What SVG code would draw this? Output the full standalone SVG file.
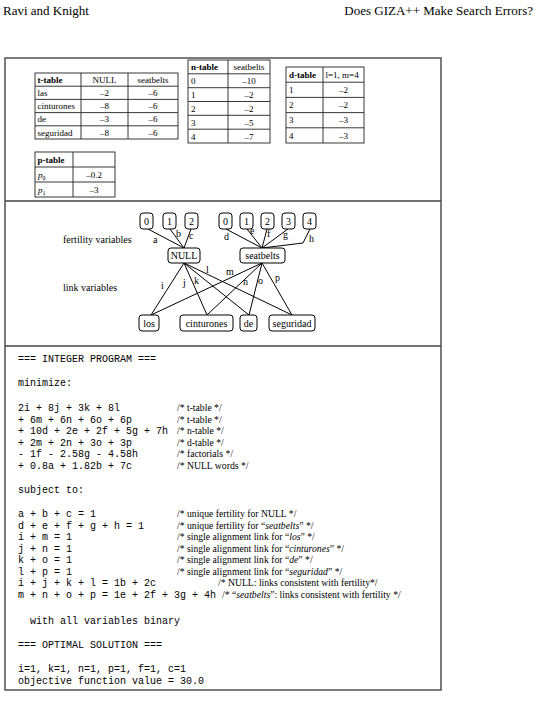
<svg xmlns="http://www.w3.org/2000/svg" width="536" height="705" viewBox="0 0 536 705">
<style>
.hd{font-family:"Liberation Serif",serif;font-size:13px;fill:#000}
.tb{font-family:"Liberation Serif",serif;font-size:9px;fill:#000}
.tbb{font-family:"Liberation Serif",serif;font-size:9px;font-weight:bold;fill:#000}
.tl{fill:none;stroke:#222;stroke-width:0.9}
.nd{fill:#fff;stroke:#000;stroke-width:1}
.nt{font-family:"Liberation Serif",serif;font-size:10px;fill:#000;text-anchor:middle}
.lb{font-family:"Liberation Serif",serif;font-size:10px;fill:#000}
.ed{fill:none;stroke:#000;stroke-width:1}
.mo{font-family:"Liberation Mono",monospace;font-size:10px;fill:#000;white-space:pre}
.cm{font-family:"Liberation Serif",serif;font-size:9.7px;fill:#000}
.box{fill:none;stroke:#444;stroke-width:1.4}
</style>
<rect width="536" height="705" fill="#fff"/>
<text class="hd" x="3" y="15">Ravi and Knight</text>
<text class="hd" x="533" y="15" text-anchor="end">Does GIZA++ Make Search Errors?</text>

<rect class="box" x="5" y="58" width="436" height="632"/>
<line class="box" x1="5" y1="201" x2="441" y2="201"/>
<line class="box" x1="5" y1="346" x2="441" y2="346"/>

<g id="t-table">
<rect class="tl" x="35" y="73" width="143" height="66"/>
<path class="tl" d="M81 73V139M128 73V139M35 86.2H178M35 99.4H178M35 112.6H178M35 125.8H178"/>
<text class="tbb" x="37.5" y="82.8">t-table</text>
<text class="tb" x="104.5" y="82.8" text-anchor="middle">NULL</text>
<text class="tb" x="153" y="82.8" text-anchor="middle">seatbelts</text>
<text class="tb" x="37.5" y="96">las</text>
<text class="tb" x="37.5" y="109.2">cinturones</text>
<text class="tb" x="37.5" y="122.4">de</text>
<text class="tb" x="37.5" y="135.6">seguridad</text>
<g text-anchor="middle">
<text class="tb" x="104.5" y="96">–2</text><text class="tb" x="153" y="96">–6</text>
<text class="tb" x="104.5" y="109.2">–8</text><text class="tb" x="153" y="109.2">–6</text>
<text class="tb" x="104.5" y="122.4">–3</text><text class="tb" x="153" y="122.4">–6</text>
<text class="tb" x="104.5" y="135.6">–8</text><text class="tb" x="153" y="135.6">–6</text>
</g>
</g>

<g id="n-table">
<rect class="tl" x="188" y="60" width="82" height="83"/>
<path class="tl" d="M228 60V143M188 73.8H270M188 87.7H270M188 101.5H270M188 115.3H270M188 129.2H270"/>
<text class="tbb" x="191" y="70.3">n-table</text>
<text class="tb" x="249" y="70.3" text-anchor="middle">seatbelts</text>
<text class="tb" x="191" y="84.2">0</text>
<text class="tb" x="191" y="98">1</text>
<text class="tb" x="191" y="111.9">2</text>
<text class="tb" x="191" y="125.7">3</text>
<text class="tb" x="191" y="139.5">4</text>
<g text-anchor="middle">
<text class="tb" x="249" y="84.2">–10</text>
<text class="tb" x="249" y="98">–2</text>
<text class="tb" x="249" y="111.9">–2</text>
<text class="tb" x="249" y="125.7">–5</text>
<text class="tb" x="249" y="139.5">–7</text>
</g>
</g>

<g id="d-table">
<rect class="tl" x="286" y="67" width="78" height="76"/>
<path class="tl" d="M323 67V143M286 82.2H364M286 97.4H364M286 112.6H364M286 127.8H364"/>
<text class="tbb" x="289" y="78">d-table</text>
<text class="tb" x="325.5" y="78">l=1, m=4</text>
<text class="tb" x="289" y="93">1</text>
<text class="tb" x="289" y="108.2">2</text>
<text class="tb" x="289" y="123.4">3</text>
<text class="tb" x="289" y="138.6">4</text>
<g text-anchor="middle">
<text class="tb" x="343.5" y="93">–2</text>
<text class="tb" x="343.5" y="108.2">–2</text>
<text class="tb" x="343.5" y="123.4">–3</text>
<text class="tb" x="343.5" y="138.6">–3</text>
</g>
</g>

<g id="p-table">
<rect class="tl" x="35" y="152" width="80" height="45"/>
<path class="tl" d="M73 152V197M35 167H115M35 182H115"/>
<text class="tbb" x="37.5" y="163">p-table</text>
<text class="tb" x="38" y="178"><tspan font-style="italic">p</tspan><tspan font-size="6" dy="1.5">0</tspan></text>
<text class="tb" x="38" y="193"><tspan font-style="italic">p</tspan><tspan font-size="6" dy="1.5">1</tspan></text>
<text class="tb" x="94" y="178" text-anchor="middle">–0.2</text>
<text class="tb" x="94" y="193" text-anchor="middle">–3</text>
</g>

<text class="lb" x="63" y="243">fertility variables</text>
<text class="lb" x="63" y="291">link variables</text>

<g id="connectors">
<path class="ed" d="M148 229L184 248M170 229L184 248M191 229L184 248"/>
<path class="ed" d="M226 229L262 248M247 229L262 248M267 229L262 248M288 229L262 248"/>
<polyline class="ed" points="310,229 303,243 262,248"/>
<path class="ed" d="M184 263L151 315M184 263L207 315M184 263L249 315M184 263L292 315"/>
<path class="ed" d="M262 263L151 315M262 263L207 315M262 263L249 315M262 263L292 315"/>
<text class="lb" x="153" y="243">a</text>
<text class="lb" x="176" y="237">b</text>
<text class="lb" x="189" y="239">c</text>
<text class="lb" x="224" y="240">d</text>
<text class="lb" x="250" y="234">e</text>
<text class="lb" x="267" y="237">f</text>
<text class="lb" x="283" y="238">g</text>
<text class="lb" x="309" y="242">h</text>
<text class="lb" x="161" y="289">i</text>
<text class="lb" x="183" y="286">j</text>
<text class="lb" x="194" y="284">k</text>
<text class="lb" x="206" y="273">l</text>
<text class="lb" x="226" y="275">m</text>
<text class="lb" x="243" y="285">n</text>
<text class="lb" x="258" y="284">o</text>
<text class="lb" x="275" y="281">p</text>
</g>

<g id="null-fert-0"><rect class="nd" x="140" y="213" width="13" height="16" rx="3"/><text class="nt" x="146.5" y="225">0</text></g>
<g id="null-fert-1"><rect class="nd" x="163" y="213" width="13" height="16" rx="3"/><text class="nt" x="169.5" y="225">1</text></g>
<g id="null-fert-2"><rect class="nd" x="185" y="213" width="13" height="16" rx="3"/><text class="nt" x="191.5" y="225">2</text></g>
<g id="sb-fert-0"><rect class="nd" x="219" y="213" width="13" height="16" rx="3"/><text class="nt" x="225.5" y="225">0</text></g>
<g id="sb-fert-1"><rect class="nd" x="240" y="213" width="13" height="16" rx="3"/><text class="nt" x="246.5" y="225">1</text></g>
<g id="sb-fert-2"><rect class="nd" x="261" y="213" width="13" height="16" rx="3"/><text class="nt" x="267.5" y="225">2</text></g>
<g id="sb-fert-3"><rect class="nd" x="282" y="213" width="13" height="16" rx="3"/><text class="nt" x="288.5" y="225">3</text></g>
<g id="sb-fert-4"><rect class="nd" x="303" y="213" width="13" height="16" rx="3"/><text class="nt" x="309.5" y="225">4</text></g>
<g id="NULL"><rect class="nd" x="168" y="248" width="32" height="15" rx="3"/><text class="nt" x="184" y="259">NULL</text></g>
<g id="seatbelts"><rect class="nd" x="240" y="248" width="45" height="15" rx="3"/><text class="nt" x="262.5" y="259">seatbelts</text></g>
<g id="los"><rect class="nd" x="139" y="315" width="20" height="16" rx="3"/><text class="nt" x="149" y="326.5">los</text></g>
<g id="cinturones"><rect class="nd" x="180" y="315" width="53" height="16" rx="3"/><text class="nt" x="206.5" y="326.5">cinturones</text></g>
<g id="de"><rect class="nd" x="240" y="315" width="17" height="16" rx="3"/><text class="nt" x="248.5" y="326.5">de</text></g>
<g id="seguridad"><rect class="nd" x="269" y="315" width="46" height="16" rx="3"/><text class="nt" x="292" y="326.5">seguridad</text></g>

<g id="integer-program">
<text class="mo" x="18" y="362">=== INTEGER PROGRAM ===</text>
<text class="mo" x="18" y="386">minimize:</text>
<text class="mo" x="18" y="411">2i + 8j + 3k + 8l</text>
<text class="mo" x="18" y="422.6">+ 6m + 6n + 6o + 6p</text>
<text class="mo" x="18" y="434.2">+ 10d + 2e + 2f + 5g + 7h</text>
<text class="mo" x="18" y="445.8">+ 2m + 2n + 3o + 3p</text>
<text class="mo" x="18" y="457.4">- 1f - 2.58g - 4.58h</text>
<text class="mo" x="18" y="469">+ 0.8a + 1.82b + 7c</text>
<text class="cm" x="177" y="411">/* t-table */</text>
<text class="cm" x="177" y="422.6">/* t-table */</text>
<text class="cm" x="177" y="434.2">/* n-table */</text>
<text class="cm" x="177" y="445.8">/* d-table */</text>
<text class="cm" x="177" y="457.4">/* factorials */</text>
<text class="cm" x="177" y="469">/* NULL words */</text>
<text class="mo" x="18" y="493">subject to:</text>
<text class="mo" x="18" y="517">a + b + c = 1</text>
<text class="mo" x="18" y="528.5">d + e + f + g + h = 1</text>
<text class="mo" x="18" y="540">i + m = 1</text>
<text class="mo" x="18" y="551.5">j + n = 1</text>
<text class="mo" x="18" y="563">k + o = 1</text>
<text class="mo" x="18" y="574.5">l + p = 1</text>
<text class="mo" x="18" y="586">i + j + k + l = 1b + 2c</text>
<text class="mo" x="18" y="597.5">m + n + o + p = 1e + 2f + 3g + 4h</text>
<text class="cm" x="177" y="517">/* unique fertility for NULL */</text>
<text class="cm" x="177" y="528.5">/* unique fertility for “<tspan font-style="italic">seatbelts</tspan>” */</text>
<text class="cm" x="177" y="540">/* single alignment link for “<tspan font-style="italic">los</tspan>” */</text>
<text class="cm" x="177" y="551.5">/* single alignment link for “<tspan font-style="italic">cinturones</tspan>” */</text>
<text class="cm" x="177" y="563">/* single alignment link for “<tspan font-style="italic">de</tspan>” */</text>
<text class="cm" x="177" y="574.5">/* single alignment link for “<tspan font-style="italic">seguridad</tspan>” */</text>
<text class="cm" x="218" y="586">/* NULL: links consistent with fertility*/</text>
<text class="cm" x="222" y="597.5">/* “<tspan font-style="italic">seatbelts</tspan>”: links consistent with fertility */</text>
<text class="mo" x="18" y="624">  with all variables binary</text>
<text class="mo" x="18" y="648">=== OPTIMAL SOLUTION ===</text>
<text class="mo" x="18" y="672">i=1, k=1, n=1, p=1, f=1, c=1</text>
<text class="mo" x="18" y="684">objective function value = 30.0</text>
</g>
</svg>
